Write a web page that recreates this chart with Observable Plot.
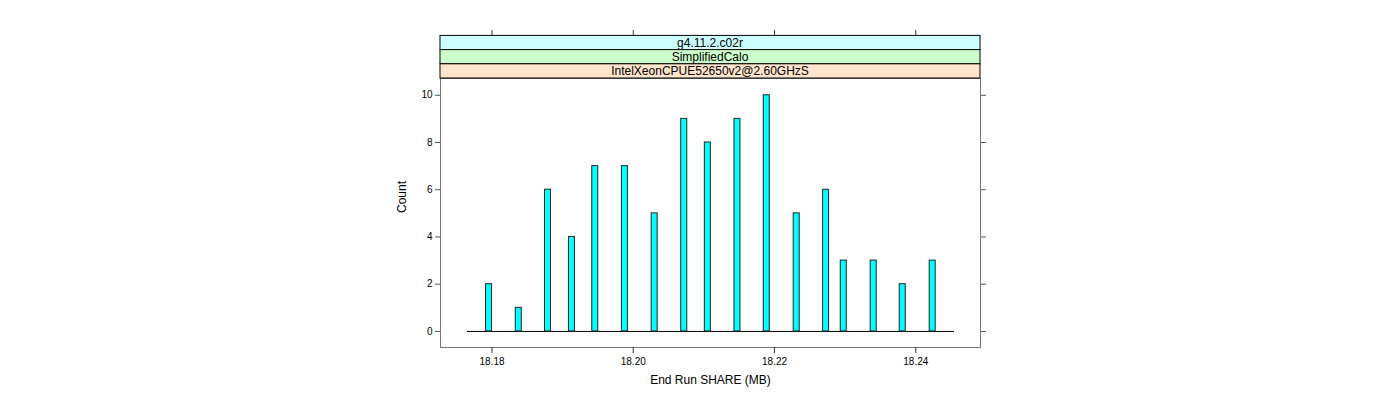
<!DOCTYPE html>
<html>
<head>
<meta charset="utf-8">
<script src="https://cdn.jsdelivr.net/npm/d3@7"></script>
<script src="https://cdn.jsdelivr.net/npm/@observablehq/plot@0.6"></script>
<style>
  html, body { margin: 0; padding: 0; background: #fff; }
  #chart { width: 1400px; height: 400px; }
  svg { font-family: "Liberation Sans", Arial, sans-serif; }
</style>
</head>
<body>
<div id="chart"></div>
<script>
// Data
const shareMB = [18.17958, 18.18379, 18.18793, 18.19132, 18.19462, 18.19882, 18.20303, 18.20722,
                 18.21056, 18.21475, 18.21890, 18.22314, 18.22730, 18.22980, 18.23404, 18.23815, 18.24239];
const counts  = [2, 1, 6, 4, 7, 7, 5, 9, 8, 9, 10, 5, 6, 3, 3, 2, 3];
const xTicks = [18.18, 18.20, 18.22, 18.24];
const yTicks = [0, 2, 4, 6, 8, 10];
const strips = ["g4.11.2.c02r", "SimplifiedCalo", "IntelXeonCPUE52650v2@2.60GHzS"];
const stripColors = ["#ccffff", "#ccffcc", "#ffe5cc"];

const data = shareMB.map((x, i) => ({x, count: counts[i]}));

const plot = Plot.plot({
  width: 1400,
  height: 400,
  marginLeft: 440,
  marginRight: 420,
  marginTop: 78,
  marginBottom: 53,
  style: {fontFamily: "Liberation Sans, Arial, sans-serif", fontSize: "10px", color: "#000", background: "#fff"},
  x: {domain: [18.17271, 18.24916], label: null},
  y: {domain: [-0.68, 10.71], label: null},
  marks: [
    Plot.ruleY([0], {stroke: "#000", strokeWidth: 1, insetLeft: 27, insetRight: 26}),
    Plot.rectY(data, {x1: "x", x2: "x", y1: 0, y2: "count", insetLeft: -3, insetRight: -3,
                      fill: "#00ffff", stroke: "#222", strokeWidth: 1}),
    Plot.frame({stroke: "#777", strokeWidth: 1}),
    Plot.axisX(xTicks, {anchor: "bottom", tickSize: 6, tickPadding: 4, tickFormat: d => d.toFixed(2),
                        stroke: "#333", fontSize: 10, label: null}),
    Plot.axisX(xTicks, {anchor: "top", tickSize: 6, tickFormat: () => "", dy: -43, stroke: "#333", label: null}),
    Plot.axisY(yTicks, {anchor: "left", tickSize: 5, tickPadding: 3, stroke: "#555", fontSize: 10, label: null}),
    Plot.axisY(yTicks, {anchor: "right", tickSize: 5, tickFormat: () => "", stroke: "#555", label: null}),
    Plot.text(["End Run SHARE (MB)"], {frameAnchor: "bottom", dy: 36, fontSize: 12, fill: "#000"}),
    Plot.text(["Count"], {frameAnchor: "left", dx: -38, rotate: -90, fontSize: 12, fill: "#000"})
  ]
});

// Lattice-style strips above the panel
const xr = plot.scale("x").range;
const svg = d3.select(plot);
const stripH = 14.2;
const top0 = 78 - strips.length * stripH;
const g = svg.append("g");
strips.forEach((s, i) => {
  const y = top0 + i * stripH;
  g.append("rect").attr("x", xr[0]).attr("y", y).attr("width", xr[1] - xr[0]).attr("height", stripH)
    .attr("fill", stripColors[i]).attr("stroke", "#000").attr("stroke-width", 1);
  g.append("text").attr("x", (xr[0] + xr[1]) / 2).attr("y", y + stripH / 2).attr("dy", "0.35em")
    .attr("text-anchor", "middle").attr("font-size", 12).attr("fill", "#000").text(s);
});

document.getElementById("chart").appendChild(plot);
</script>
</body>
</html>
